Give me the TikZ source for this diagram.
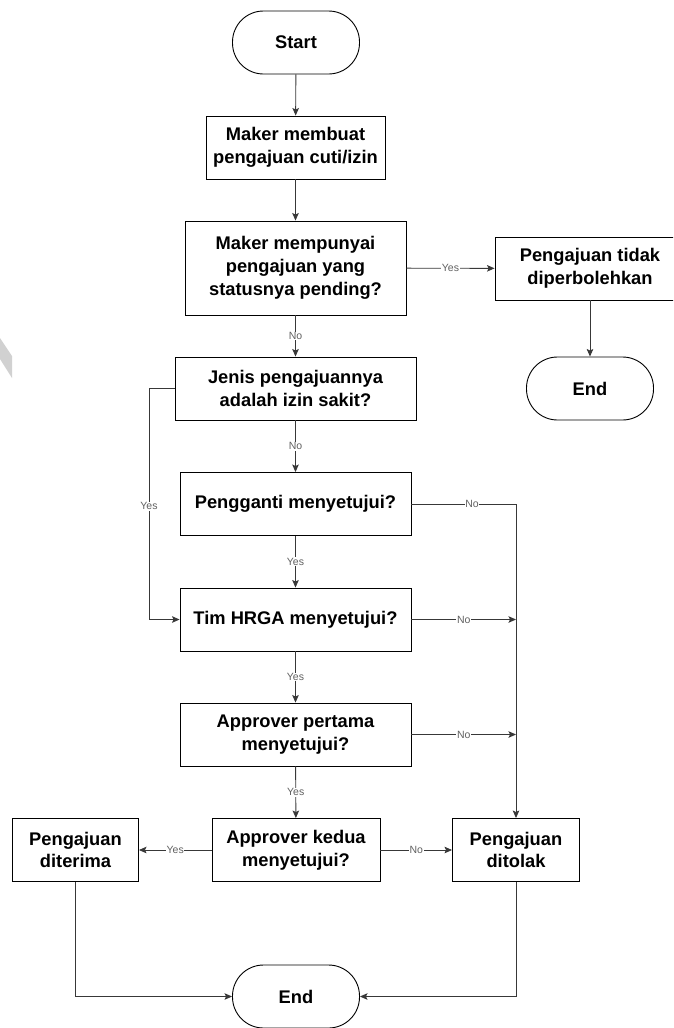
\documentclass[tikz,border=0pt]{standalone}
\usepackage{fontspec}
\setmainfont{Liberation Sans}
\usetikzlibrary{arrows.meta}

\tikzset{
  box/.style={draw=black, line width=0.9pt, fill=white, align=center,
    font=\bfseries\fontsize{18.3}{22.7}\selectfont, inner sep=2pt,
    minimum height=63pt},
  term/.style={box, rounded corners=31pt, minimum width=127pt},
  flow/.style={draw=black!78, line width=0.9pt,
    -{Stealth[length=7.5pt,width=6.5pt,inset=1.5pt]}},
  link/.style={draw=black!78, line width=0.9pt},
  lbl/.style={font=\fontsize{10.5}{12}\selectfont, text=black!62,
    fill=white, inner sep=0.6pt}
}

\begin{document}
\begin{tikzpicture}[x=1pt,y=-1pt]
\useasboundingbox (0,0) rectangle (673,1028);
\clip (0,0) rectangle (673,1028);
\fill[white] (0,0) rectangle (673,1028);

% faint stripe at the left margin
\fill[black!18] (0,338) -- (12,356) -- (12,378) -- (0,359) -- cycle;

% process steps
\node[term] (start) at (296,42.5) {Start};
\node[box, minimum width=179pt] (make) at (295.5,147.5) {Maker membuat\\pengajuan cuti/izin};
\node[box, minimum width=221pt, minimum height=94pt] (pend) at (295.5,268) {Maker mempunyai\\pengajuan yang\\statusnya pending?};
\node[box, minimum width=190pt] (deny) at (590,268.5) {Pengajuan tidak\\diperbolehkan};
\node[term] (endA) at (590,388.5) {End};
\node[box, minimum width=241pt] (kind) at (295.5,388.5) {Jenis pengajuannya\\adalah izin sakit?};
\node[box, minimum width=231pt] (subst) at (295.5,504) {Pengganti menyetujui?};
\node[box, minimum width=231pt] (hrga) at (295.5,619.5) {Tim HRGA menyetujui?};
\node[box, minimum width=231pt] (appr1) at (295.5,734.5) {Approver pertama\\menyetujui?};
\node[box, minimum width=168pt] (appr2) at (296,850) {Approver kedua\\menyetujui?};
\node[box, minimum width=126pt] (acc) at (75.5,850) {Pengajuan\\diterima};
\node[box, minimum width=127pt] (rej) at (516,850) {Pengajuan\\ditolak};
\node[term] (endB) at (296,996.5) {End};

% junction points
\coordinate (sick) at (149,388.5);
\coordinate (sickIn) at (149,619.5);
\coordinate (subR) at (516,504);
\coordinate (hrR) at (516,619.5);
\coordinate (a1R) at (516,734.5);
\coordinate (accD) at (75.5,996.5);
\coordinate (rejD) at (516,996.5);

% connectors
\draw[flow] (start) -- (make);
\draw[flow] (make) -- (pend);
\draw[flow] (pend) -- node[lbl] {Yes} (deny);
\draw[flow] (pend) -- node[lbl] {No} (kind);
\draw[flow] (deny.south -| endA) -- (endA);
\draw[flow] (kind) -- node[lbl] {No} (subst);
\draw[flow] (kind.west) -- (sick) -- node[lbl, pos=0.51] {Yes} (sickIn) -- (hrga.west);
\draw[flow] (subst) -- node[lbl] {Yes} (hrga);
\draw[flow] (subst.east) -- node[lbl, pos=0.58] {No} (subR) -- (rej.north);
\draw[flow] (hrga.east) -- node[lbl, pos=0.5] {No} (hrR);
\draw[flow] (hrga) -- node[lbl] {Yes} (appr1);
\draw[flow] (appr1.east) -- node[lbl, pos=0.5] {No} (a1R);
\draw[flow] (appr1) -- node[lbl] {Yes} (appr2);
\draw[flow] (appr2) -- node[lbl] {Yes} (acc);
\draw[flow] (appr2) -- node[lbl] {No} (rej);
\draw[flow] (acc.south) -- (accD) -- (endB.west);
\draw[flow] (rej.south) -- (rejD) -- (endB.east);
\end{tikzpicture}
\end{document}
